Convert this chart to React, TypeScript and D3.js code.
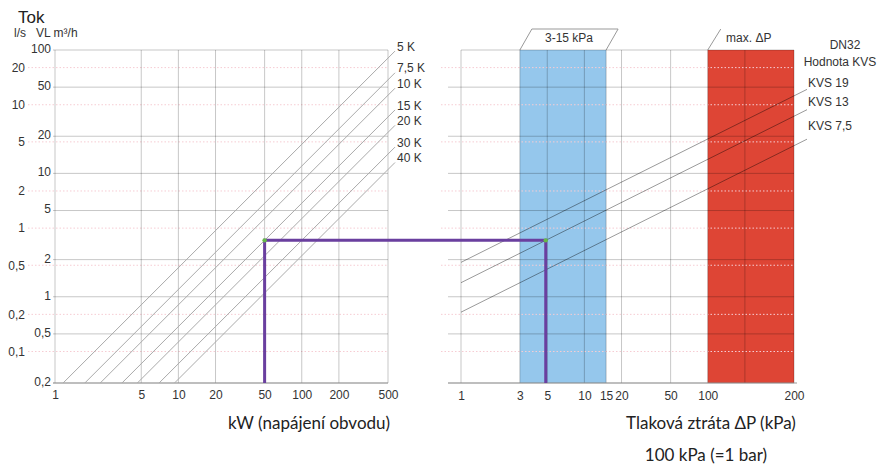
import React, { useEffect, useRef } from 'react';
import * as d3 from 'd3';

// flow ticks, VL m³/h (inner column) and l/s (outer column)
const flowTicks = [100, 50, 20, 10, 5, 2, 1, 0.5, 0.2];
const flowLsTicks = [20, 10, 5, 2, 1, 0.5, 0.2, 0.1];
// power axis (kW)
const powerTicks = [1, 5, 10, 20, 50, 100, 200, 500];
// temperature difference curves
const deltaT = [5, 7.5, 10, 15, 20, 30, 40];
const deltaTLabels = ['5 K', '7,5 K', '10 K', '15 K', '20 K', '30 K', '40 K'];
// pressure loss axis (kPa) - last gridline is labelled 200 in the original
const pressureTicks = [1, 3, 5, 10, 15, 20, 50, 100, 200, 500];
const pressureLabels = ['1', '3', '5', '10', '15', '20', '50', '100', '', '200'];
// valve curves
const kvs = [19, 13, 7.5];
const kvsLabels = ['KVS 19', 'KVS 13', 'KVS 7,5'];
const kvsLabelDy = [-6, -7, -12];
// shaded ranges
const lowBand = [3, 15];
const highBand = [100, 500];
// worked example
const examplePower = 50;
const exampleDeltaT = 15;
const exampleKvs = 13;

const flowOf = (p, dt) => (0.86 * p) / dt;
const kvsFlow = (k, dp) => k * Math.sqrt(dp / 100);
const fmt = (v) => String(v).replace('.', ',');

const tickFont = 'Liberation Sans, Arial, sans-serif';
const titleFont = 'Lato, Open Sans, sans-serif';

export default function App() {
  const ref = useRef(null);

  useEffect(() => {
    const svg = d3.select(ref.current);
    svg.selectAll('*').remove();

    const top = 50;
    const bottom = 383;

    // scales
    const y = d3.scaleLog().domain([100, 0.2]).range([top, bottom]);
    const yLs = d3.scaleLog().domain([100 / 3.6, 0.2 / 3.6]).range([top, bottom]);
    const xL = d3.scaleLog().domain([1, 500]).range([55, 388]);
    const xR = d3.scaleLog().domain([1, 500]).range([461, 794]);
    const grid = 'rgba(0,0,0,0.22)';

    const label = (x, yy, txt, size = 12, anchor = 'start', font = tickFont) =>
      svg
        .append('text')
        .attr('x', x)
        .attr('y', yy)
        .attr('text-anchor', anchor)
        .attr('dominant-baseline', 'middle')
        .style('font', `${size}px ${font}`)
        .attr('fill', '#333')
        .text(txt);

    // bands (under the grid)
    svg
      .append('g')
      .selectAll('rect')
      .data([
        { r: lowBand, c: '#95c7ec' },
        { r: highBand, c: '#de4535' },
      ])
      .join('rect')
      .attr('x', (d) => xR(d.r[0]))
      .attr('y', top)
      .attr('width', (d) => xR(d.r[1]) - xR(d.r[0]))
      .attr('height', bottom - top)
      .attr('fill', (d) => d.c);

    // band caption boxes
    const bx0 = xR(lowBand[0]);
    const bx1 = xR(lowBand[1]);
    svg
      .append('path')
      .attr('d', `M${bx0},${top} L${bx0 + 12},${top - 21} L${bx1 + 12},${top - 21} L${bx1},${top}`)
      .attr('fill', 'none')
      .attr('stroke', '#999');
    svg
      .append('path')
      .attr('d', `M${xR(highBand[0])},${top} L${xR(highBand[0]) + 13},${top - 21}`)
      .attr('fill', 'none')
      .attr('stroke', '#999');
    label((bx0 + bx1) / 2 + 6, top - 11, '3-15 kPa', 12, 'middle');
    label(xR(highBand[0]) + 41, top - 11, 'max. ΔP', 12, 'middle');

    // pink dotted l/s gridlines
    [
      [28, 388],
      [441, 794],
    ].forEach(([a, b]) => {
      svg
        .append('g')
        .selectAll('line')
        .data(flowLsTicks)
        .join('line')
        .attr('x1', a)
        .attr('x2', b)
        .attr('y1', yLs)
        .attr('y2', yLs)
        .attr('stroke', '#f6ccd3')
        .attr('stroke-dasharray', '1.5,2');
    });

    // horizontal gridlines
    [
      [53, 388],
      [448, 794],
    ].forEach(([a, b], i) => {
      svg
        .append('g')
        .selectAll('line')
        .data(flowTicks)
        .join('line')
        .attr('x1', (d) => (i === 1 && d === 100 ? xR(1) : a))
        .attr('x2', b)
        .attr('y1', y)
        .attr('y2', y)
        .attr('stroke', grid);
    });

    // vertical gridlines
    svg
      .append('g')
      .selectAll('line')
      .data(powerTicks)
      .join('line')
      .attr('x1', xL)
      .attr('x2', xL)
      .attr('y1', top)
      .attr('y2', bottom)
      .attr('stroke', grid);
    svg
      .append('g')
      .selectAll('line')
      .data(pressureTicks)
      .join('line')
      .attr('x1', xR)
      .attr('x2', xR)
      .attr('y1', top)
      .attr('y2', bottom)
      .attr('stroke', grid);

    // baselines
    svg.append('line').attr('x1', 53).attr('x2', 388).attr('y1', bottom).attr('y2', bottom).attr('stroke', '#999');
    svg.append('line').attr('x1', 448).attr('x2', 797).attr('y1', bottom).attr('y2', bottom).attr('stroke', '#999');

    // delta T lines
    const line = d3.line();
    const pEnd = xL.invert(xL(500) + 7);
    svg
      .append('g')
      .selectAll('path')
      .data(deltaT)
      .join('path')
      .attr('d', (dt) => {
        const p0 = Math.max(1, (0.2 * dt) / 0.86);
        return line([
          [xL(p0), y(flowOf(p0, dt))],
          [xL(pEnd), y(flowOf(pEnd, dt))],
        ]);
      })
      .attr('fill', 'none')
      .attr('stroke', '#aaa');
    deltaT.forEach((dt, i) => label(xL(pEnd) + 2, y(flowOf(pEnd, dt)) - 3.5, deltaTLabels[i]));

    // kvs lines
    const dpEnd = xR.invert(xR(500) + 13);
    svg
      .append('g')
      .selectAll('path')
      .data(kvs)
      .join('path')
      .attr('d', (k) =>
        line([
          [xR(1), y(kvsFlow(k, 1))],
          [xR(dpEnd), y(kvsFlow(k, dpEnd))],
        ]),
      )
      .attr('fill', 'none')
      .attr('stroke', 'rgba(0,0,0,0.4)');
    kvs.forEach((k, i) => label(xR(dpEnd) + 1, y(kvsFlow(k, dpEnd)) + kvsLabelDy[i], kvsLabels[i]));
    label(845, 46, 'DN32', 12, 'middle');
    label(840, 63, 'Hodnota KVS', 12, 'middle');

    // worked example path
    const q = flowOf(examplePower, exampleDeltaT);
    const dp = 100 * (q / exampleKvs) ** 2;
    svg
      .append('path')
      .attr(
        'd',
        line([
          [xL(examplePower), bottom],
          [xL(examplePower), y(q)],
          [xR(dp), y(q)],
          [xR(dp), bottom],
        ]),
      )
      .attr('fill', 'none')
      .attr('stroke', '#6a3f9f')
      .attr('stroke-width', 3);
    svg
      .append('g')
      .selectAll('circle')
      .data([xL(examplePower), xR(dp)])
      .join('circle')
      .attr('cx', (d) => d)
      .attr('cy', y(q))
      .attr('r', 2.2)
      .attr('fill', '#66b84a');

    // axes (labels only)
    const styleAxis = (g) => {
      g.select('.domain').remove();
      g.selectAll('text').style('font', `12px ${tickFont}`).attr('fill', '#333');
    };
    svg
      .append('g')
      .attr('transform', `translate(0,${bottom})`)
      .call(d3.axisBottom(xL).tickValues(powerTicks).tickSize(0).tickPadding(7).tickFormat(fmt))
      .call(styleAxis);
    svg
      .append('g')
      .attr('transform', `translate(0,${bottom})`)
      .call(
        d3
          .axisBottom(xR)
          .tickValues(pressureTicks)
          .tickSize(0)
          .tickPadding(8)
          .tickFormat((d, i) => pressureLabels[i]),
      )
      .call(styleAxis);
    svg
      .append('g')
      .attr('transform', `translate(51,0)`)
      .call(d3.axisLeft(y).tickValues(flowTicks).tickSize(0).tickPadding(0).tickFormat(fmt))
      .call(styleAxis)
      .call((g) => g.selectAll('text').attr('dy', '0.2em'));
    svg
      .append('g')
      .attr('transform', `translate(25,0)`)
      .call(d3.axisLeft(yLs).tickValues(flowLsTicks).tickSize(0).tickPadding(0).tickFormat(fmt))
      .call(styleAxis);

    // titles
    svg.append('text').attr('x', 18).attr('y', 23).style('font', `17px ${tickFont}`).attr('fill', '#222').text('Tok');
    svg.append('text').attr('x', 14).attr('y', 37).style('font', `12px ${tickFont}`).attr('fill', '#333').text('l/s');
    svg.append('text').attr('x', 36).attr('y', 37).style('font', `12px ${tickFont}`).attr('fill', '#333').text('VL m³/h');
    label(309, 425, 'kW (napájení obvodu)', 17, 'middle', titleFont).attr('fill', '#222');
    label(711, 425, 'Tlaková ztráta ΔP (kPa)', 17, 'middle', titleFont).attr('fill', '#222');
    label(706, 457, '100 kPa (=1 bar)', 17, 'middle', titleFont).attr('fill', '#222');
  });

  return (
    <svg
      ref={ref}
      width={880}
      height={466}
      style={{ position: 'absolute', left: 0, top: 0, background: '#fff' }}
    />
  );
}
